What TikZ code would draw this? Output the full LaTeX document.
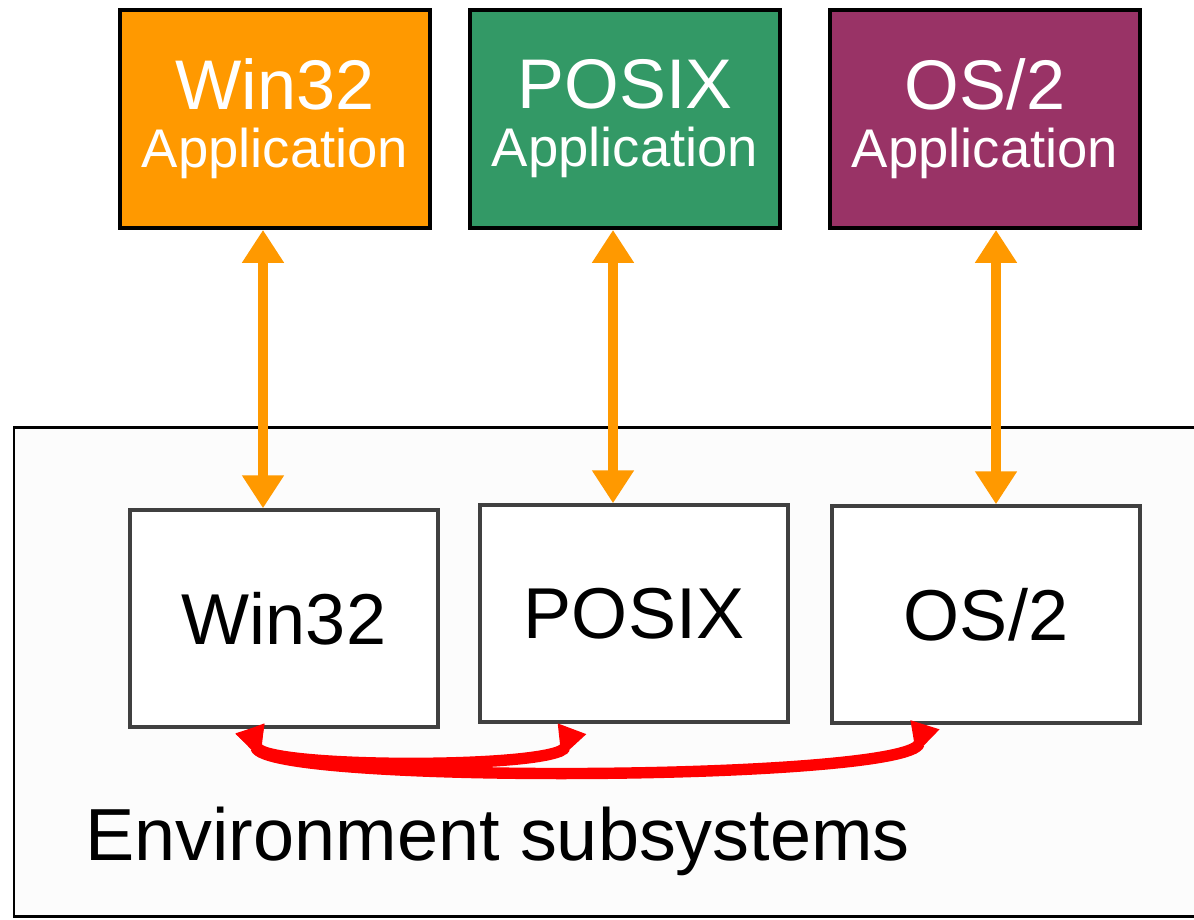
\documentclass[tikz,border=0pt]{standalone}
\usepackage{fontspec}
\setmainfont{Liberation Sans}
\usepackage{xcolor}
\usepackage{tikz}
\usetikzlibrary{calc}
\usetikzlibrary{arrows.meta}
\usetikzlibrary{positioning}
\definecolor{winorange}{HTML}{FF9900}
\definecolor{posixgreen}{HTML}{339966}
\definecolor{ostwopurple}{HTML}{993366}
\definecolor{envgray}{HTML}{FCFCFC}
\tikzstyle{appnode}=[draw=black, line width=2.2pt, shape=rectangle, text=white, align=center, minimum width=6.2cm, minimum height=4.36cm, inner sep=0pt, font=\fontsize{31pt}{33pt}\selectfont]
\tikzstyle{subnode}=[draw=black!75, line width=2pt, shape=rectangle, fill=white, minimum width=6.16cm, minimum height=4.34cm, inner sep=0pt, font=\fontsize{41pt}{49pt}\selectfont]
\tikzstyle{envnode}=[draw=black, line width=1.7pt, shape=rectangle, fill=envgray, minimum width=23.92cm, minimum height=9.78cm, inner sep=0pt]
\tikzstyle{callarrow}=[{Triangle[length=0.66cm, width=0.8cm]}-{Triangle[length=0.66cm, width=0.8cm]}, line width=5.8pt, color=winorange]
\tikzstyle{lpcarrow}=[{Triangle[reversed, length=0.62cm, width=0.56cm]}-{Triangle[reversed, length=0.62cm, width=0.56cm]}, line width=6.5pt, color=red]

\begin{document}
\begin{tikzpicture}
\useasboundingbox (0,0) rectangle (23.88,-18.38);
\node [envnode] (env) at (12.24,-13.43) {};
\node [appnode, fill=winorange] (appwin) at (5.5,-2.38) {{\fontsize{40pt}{33pt}\selectfont Win32}\\Application};
\node [appnode, fill=posixgreen] (appposix) at (12.5,-2.38) {{\fontsize{40pt}{33pt}\selectfont POSIX}\\Application};
\node [appnode, fill=ostwopurple] (appos2) at (19.7,-2.38) {{\fontsize{40pt}{33pt}\selectfont OS/2}\\Application};
\node [subnode] (subwin) at (5.68,-12.37) {Win32};
\node [subnode] (subposix) at (12.68,-12.27) {POSIX};
\node [subnode] (subos2) at (19.72,-12.29) {OS/2};
\node [anchor=base west, inner sep=0pt, font=\fontsize{42pt}{50pt}\selectfont] (envlabel) at (1.7,-17.2) {Environment subsystems};

\draw[callarrow] ([xshift=-0.24cm]appwin.south) -- ([xshift=-0.24cm]appwin.south |- subwin.north);
\draw[callarrow] ([xshift=-0.24cm]appposix.south) -- ([xshift=-0.24cm]appposix.south |- subposix.north);
\draw[callarrow] ([xshift=0.22cm]appos2.south) -- ([xshift=0.22cm]appos2.south |- subos2.north);

\draw[lpcarrow] ([xshift=-0.68cm]subwin.south) .. controls +(0.3,-0.8) and +(-0.3,-0.8) .. ([xshift=-1.24cm, yshift=-0.1cm]subposix.south);
\draw[lpcarrow] ([xshift=-0.68cm]subwin.south) .. controls +(0.35,-1.12) and +(-0.35,-1.12) .. ([xshift=-1.22cm]subos2.south);
\end{tikzpicture}
\end{document}
